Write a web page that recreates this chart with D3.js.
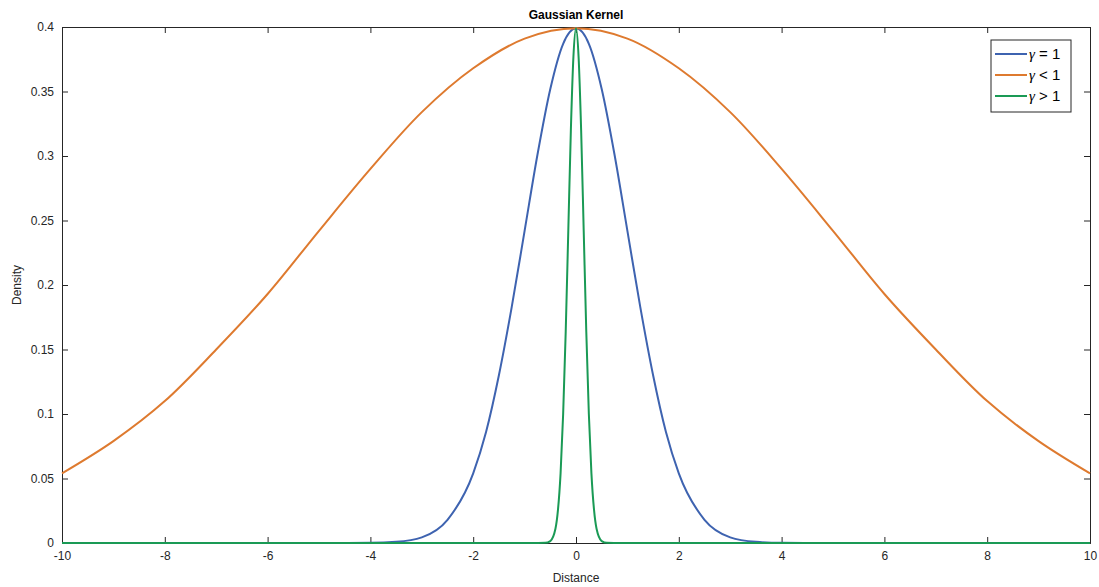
<!DOCTYPE html>
<html><head><meta charset="utf-8">
<script src="https://cdn.jsdelivr.net/npm/d3@7"></script>
<style>body{margin:0;background:#fff}text{font-family:"Liberation Sans",Arial,sans-serif}</style>
</head><body><svg id="c" width="1099" height="587"></svg>
<script>
// values (right half, curves are symmetric about 0)
var xBlue = [0, 0.25, 0.5, 0.75, 1, 1.25, 1.5, 1.75, 2, 2.5, 3, 3.5, 4, 5, 10];
var yBlue = [0.399, 0.387, 0.352, 0.301, 0.242, 0.183, 0.130, 0.086, 0.054, 0.018, 0.0044, 0.0009, 0.0001, 0, 0];
var xOrange = [0, 1, 2, 3, 4, 5, 6, 7, 8, 9, 10];
var yOrange = [0.399, 0.391, 0.368, 0.334, 0.290, 0.242, 0.193, 0.150, 0.110, 0.079, 0.054];
var xGreen = [0, 0.05, 0.1, 0.15, 0.2, 0.25, 0.3, 0.35, 0.4, 0.5, 0.6, 1, 10];
var yGreen = [0.399, 0.377, 0.320, 0.242, 0.164, 0.100, 0.054, 0.026, 0.011, 0.0015, 0.0001, 0, 0];
var xTicks = [-10, -8, -6, -4, -2, 0, 2, 4, 6, 8, 10];
var yTicks = [0, 0.05, 0.1, 0.15, 0.2, 0.25, 0.3, 0.35, 0.4];
var names = [" = 1", " < 1", " > 1"];
var colors = ["#3e63b0", "#de7a2f", "#1a9a55"];

function mirror(xs, ys) {
	var pts = [];
	for (var i = xs.length - 1; i > 0; i--) pts.push([-xs[i], ys[i]]);
	for (var j = 0; j < xs.length; j++) pts.push([xs[j], ys[j]]);
	return pts;
}
var series = [mirror(xBlue, yBlue), mirror(xOrange, yOrange), mirror(xGreen, yGreen)];

var L = 62, R = 1090, T = 27, B = 543;
var x = d3.scaleLinear().domain([-10, 10]).range([L, R]);
var y = d3.scaleLinear().domain([0, 0.4]).range([B, T]);
var svg = d3.select("#c");

svg.append("g").attr("transform", "translate(0," + B + ")")
	.call(d3.axisBottom(x).tickValues(xTicks).tickSize(-6).tickPadding(8).tickFormat(function(d) { return String(d); }));
svg.append("g").attr("transform", "translate(0," + T + ")")
	.call(d3.axisTop(x).tickValues(xTicks).tickSize(-6).tickFormat(""));
svg.append("g").attr("transform", "translate(" + L + ",0)")
	.call(d3.axisLeft(y).tickValues(yTicks).tickSize(-6).tickPadding(8).tickFormat(function(d) { return String(d); }));
svg.append("g").attr("transform", "translate(" + R + ",0)")
	.call(d3.axisRight(y).tickValues(yTicks).tickSize(-6).tickFormat(""));
svg.selectAll(".domain").attr("stroke", "#262626");
svg.selectAll(".tick line").attr("stroke", "#262626");
svg.selectAll(".tick text").attr("font-size", 12).attr("fill", "#262626");

var smooth = d3.line().x(function(d) { return x(d[0]); }).y(function(d) { return y(d[1]); })
	.curve(d3.curveCatmullRom);
var mono = d3.line().x(function(d) { return x(d[0]); }).y(function(d) { return y(d[1]); })
	.curve(d3.curveMonotoneX);
svg.append("g").selectAll("path").data(series).enter().append("path")
	.attr("d", function(d, i) { return i == 1 ? smooth(d) : mono(d); })
	.attr("fill", "none").attr("stroke-width", 2)
	.attr("stroke", function(d, i) { return colors[i]; });

svg.append("text").attr("x", (L + R) / 2).attr("y", 19).attr("text-anchor", "middle")
	.attr("font-size", 12).attr("font-weight", "bold").text("Gaussian Kernel");
svg.append("text").attr("x", (L + R) / 2).attr("y", 582).attr("text-anchor", "middle")
	.attr("font-size", 12).attr("fill", "#262626").text("Distance");
svg.append("text").attr("transform", "translate(21," + (T + B) / 2 + ") rotate(-90)")
	.attr("text-anchor", "middle").attr("font-size", 12).attr("fill", "#262626").text("Density");

var lg = svg.append("g").attr("transform", "translate(991,40)");
lg.append("rect").attr("width", 80).attr("height", 72).attr("fill", "#fff").attr("stroke", "#262626");
names.forEach(function(n, i) {
	var yy = 14 + i * 21;
	lg.append("line").attr("x1", 4).attr("x2", 36).attr("y1", yy).attr("y2", yy)
		.attr("stroke", colors[i]).attr("stroke-width", 2);
	var t = lg.append("text").attr("x", 38).attr("y", yy + 5).attr("font-size", 15);
	t.append("tspan").attr("font-family", "Liberation Serif, serif").attr("font-style", "italic").text("\u03b3");
	t.append("tspan").text(n);
});
</script></body></html>
